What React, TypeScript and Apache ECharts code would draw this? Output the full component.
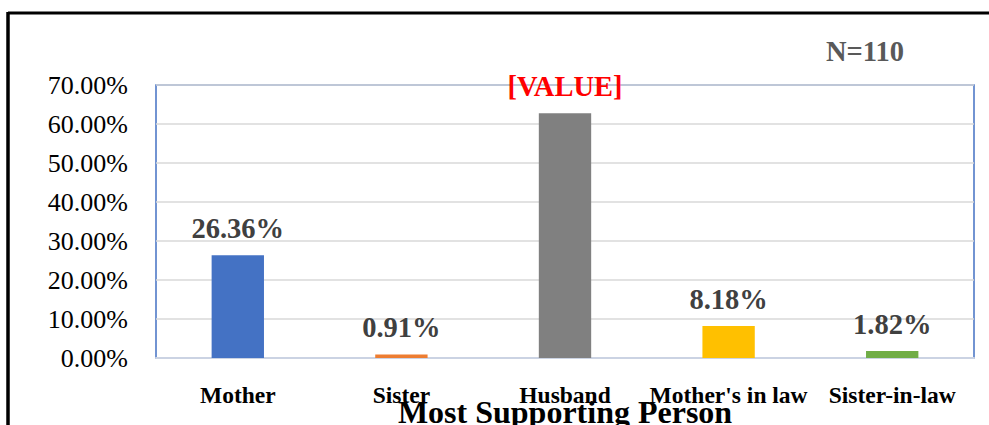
import React, { useEffect, useRef } from "react";
import * as echarts from "echarts";

const categories = ["Mother", "Sister", "Husband", "Mother's in law", "Sister-in-law"];
const values = [26.36, 0.91, 62.73, 8.18, 1.82];
const barColors = ["#4472C4", "#ED7D31", "#808080", "#FFC000", "#70AD47"];
const labelTexts = ["26.36%", "0.91%", "[VALUE]", "8.18%", "1.82%"];
const labelColors = ["#404040", "#404040", "#FF0000", "#404040", "#404040"];
const axisTitle = "Most Supporting Person";
const noteText = "N=110";

const FONT = "'Liberation Serif', 'Times New Roman', serif";

export default function App() {
  const ref = useRef<HTMLDivElement>(null);
  useEffect(() => {
    if (!ref.current) return;
    const chart = echarts.init(ref.current, null, { renderer: "svg" });
    chart.setOption({
      animation: false,
      backgroundColor: "#ffffff",
      grid: {
        left: 156,
        top: 85,
        right: 15,
        bottom: 67,
        containLabel: false,
        outerBoundsMode: "none",
        show: true,
        borderColor: "#4472C4",
        borderWidth: 1.5,
        backgroundColor: "transparent",
      },
      xAxis: {
        type: "category",
        data: categories,
        axisTick: { show: false },
        axisLine: { show: true, lineStyle: { color: "#CBD3E3", width: 2 } },
        axisLabel: {
          fontFamily: FONT,
          fontWeight: "bold",
          fontSize: 23.5,
          color: "#000000",
          margin: 25,
          interval: 0,
        },
        name: axisTitle,
        nameLocation: "middle",
        nameGap: 38,
        nameMoveOverlap: false,
        nameTextStyle: {
          fontFamily: FONT,
          fontWeight: "bold",
          fontSize: 32,
          color: "#000000",
        },
      },
      yAxis: {
        type: "value",
        min: 0,
        max: 70,
        interval: 10,
        axisLine: { show: false },
        axisTick: { show: false },
        splitLine: { lineStyle: { color: "#D9D9D9", width: 1.5 } },
        axisLabel: {
          fontFamily: FONT,
          fontSize: 26,
          color: "#000000",
          margin: 28,
          formatter: (v: number) => v.toFixed(2) + "%",
        },
      },
      graphic: [
        {
          type: "line",
          shape: { x1: 8, y1: 13, x2: 989, y2: 13 },
          style: { stroke: "#000000", lineWidth: 3 },
        },
        {
          type: "line",
          shape: { x1: 8, y1: 12, x2: 8, y2: 425 },
          style: { stroke: "#000000", lineWidth: 3.5 },
        },
        {
          type: "text",
          x: 865,
          y: 51,
          style: {
            text: noteText,
            fontFamily: FONT,
            fontWeight: "bold",
            fontSize: 28.5,
            fill: "#595959",
            align: "center",
            verticalAlign: "middle",
          },
        },
      ],
      series: [
        {
          type: "bar",
          barWidth: "32%",
          data: values.map((v, i) => ({
            value: v,
            itemStyle: { color: barColors[i] },
            label: {
              show: true,
              position: "top",
              distance: 12,
              formatter: labelTexts[i],
              color: labelColors[i],
              fontFamily: FONT,
              fontWeight: "bold",
              fontSize: 28.5,
            },
          })),
        },
      ],
    });
    return () => chart.dispose();
  }, []);
  return (
    <div
      ref={ref}
      style={{ position: "fixed", left: 0, top: 0, width: 989, height: 425 }}
    />
  );
}
